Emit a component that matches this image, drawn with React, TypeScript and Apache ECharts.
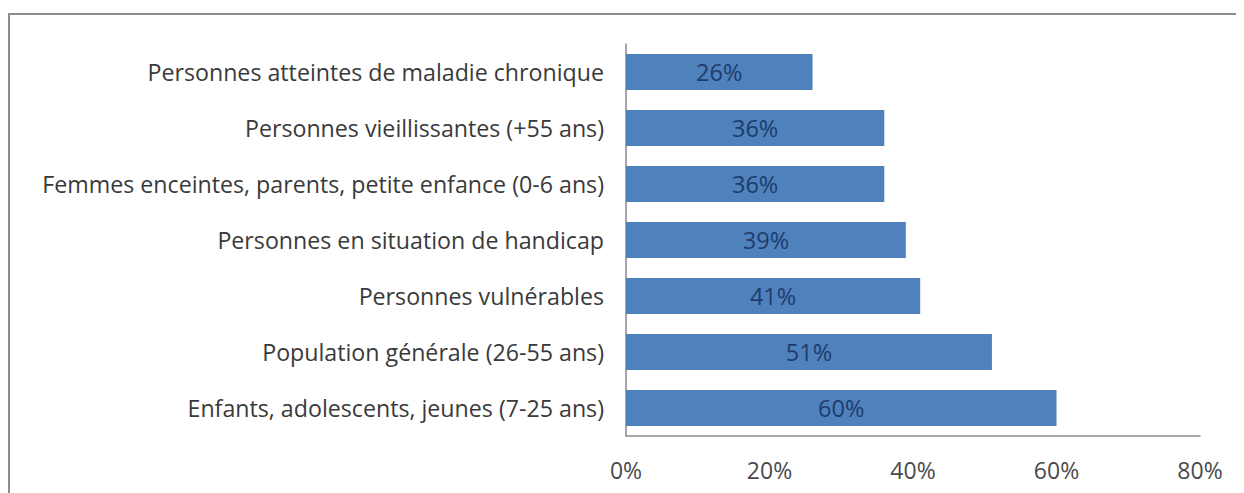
import React, { useEffect, useRef } from "react";
import * as echarts from "echarts";

const categories = [
  "Enfants, adolescents, jeunes (7-25 ans)",
  "Population générale (26-55 ans)",
  "Personnes vulnérables",
  "Personnes en situation de handicap",
  "Femmes enceintes, parents, petite enfance (0-6 ans)",
  "Personnes vieillissantes (+55 ans)",
  "Personnes atteintes de maladie chronique",
];
const values = [60, 51, 41, 39, 36, 36, 26];
const xTicks = { min: 0, max: 80, interval: 20 };

const FONT = "'Open Sans', sans-serif";

export default function App() {
  const ref = useRef<HTMLDivElement>(null);
  useEffect(() => {
    if (!ref.current) return;
    const chart = echarts.init(ref.current, undefined, { renderer: "svg" });
    chart.setOption({
      animation: false,
      backgroundColor: "#ffffff",
      grid: { left: 618, right: 44, top: 36, bottom: 57, containLabel: false },
      xAxis: {
        type: "value",
        min: xTicks.min,
        max: xTicks.max,
        interval: xTicks.interval,
        splitLine: { show: false },
        axisLine: { show: true, lineStyle: { color: "#8a8a8a", width: 1.5 } },
        axisTick: { show: false },
        axisLabel: {
          formatter: "{value}%",
          color: "#4a4a4a",
          fontFamily: FONT,
          fontSize: 23,
          margin: 22,
        },
      },
      yAxis: {
        type: "category",
        data: categories,
        axisLine: { show: true, lineStyle: { color: "#8a8a8a", width: 1.5 } },
        axisTick: { show: false },
        axisLabel: {
          color: "#3a3a3a",
          fontFamily: FONT,
          fontSize: 23.2,
          margin: 22,
        },
      },
      series: [
        {
          type: "bar",
          data: values,
          barCategoryGap: "36%",
          itemStyle: { color: "#4f81bd" },
          label: {
            show: true,
            position: "inside",
            formatter: "{c}%",
            color: "#1f3c6c",
            fontFamily: FONT,
            fontSize: 23.5,
          },
        },
      ],
      graphic: [
        {
          type: "line",
          shape: { x1: 1, y1: 5, x2: 1, y2: 485 },
          style: { stroke: "#8c8c8c", lineWidth: 2 },
        },
        {
          type: "line",
          shape: { x1: 0, y1: 6, x2: 1236, y2: 6 },
          style: { stroke: "#8c8c8c", lineWidth: 2 },
        },
      ],
    });
    return () => chart.dispose();
  }, []);
  return <div ref={ref} style={{ width: 1236, height: 485 }} />;
}
